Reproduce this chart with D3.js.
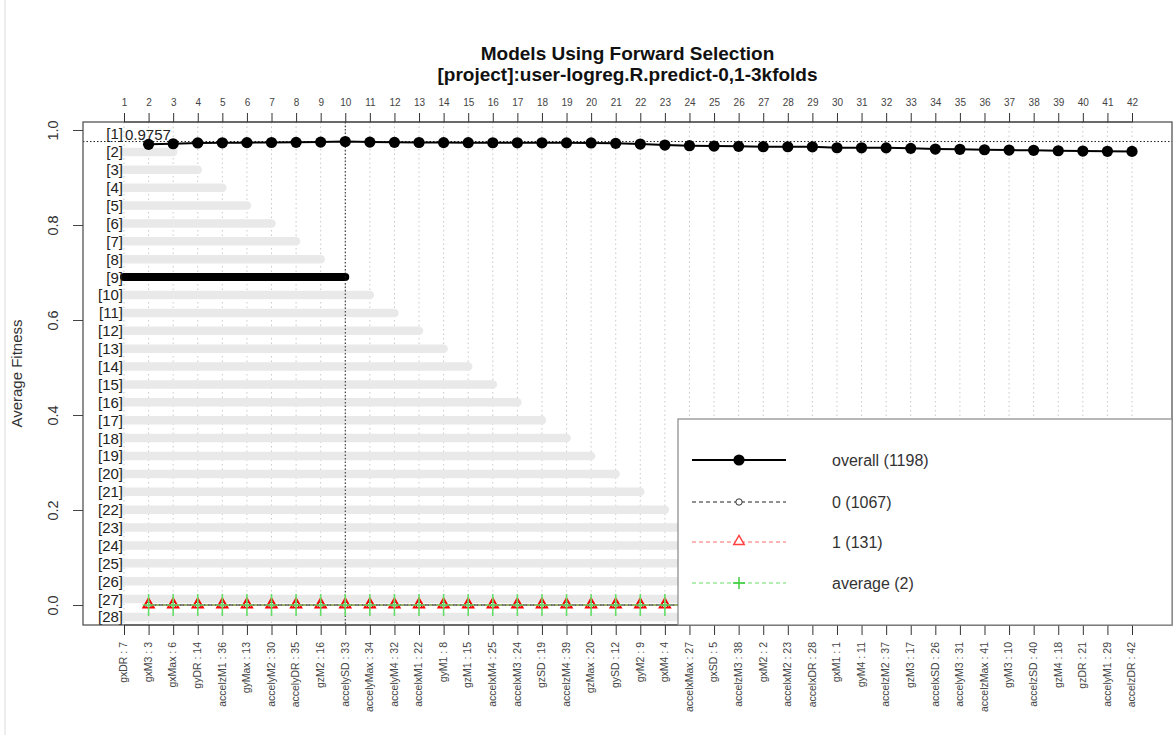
<!DOCTYPE html>
<html>
<head>
<meta charset="utf-8">
<script src="https://cdn.jsdelivr.net/npm/d3@7"></script>
<style>
  html, body { margin: 0; padding: 0; background: #fff; }
  svg { display: block; font-family: "Liberation Sans", Arial, Helvetica, sans-serif; }
</style>
</head>
<body>
<svg id="chart" width="1175" height="735"></svg>
<script>
// ---- data ---------------------------------------------------------------
const titleLines = ["Models Using Forward Selection", "[project]:user-logreg.R.predict-0,1-3kfolds"];
const yAxisTitle = "Average Fitness";

// number of features in each model (top axis)
const stepTicks = [1,2,3,4,5,6,7,8,9,10,11,12,13,14,15,16,17,18,19,20,21,
                   22,23,24,25,26,27,28,29,30,31,32,33,34,35,36,37,38,39,40,41,42];

// feature added at each step (bottom axis)
const featureNames = ["gxDR : 7", "gxM3 : 3", "gxMax : 6", "gyDR : 14", "accelzM1 : 36", "gyMax : 13",
  "accelyM2 : 30", "accelyDR : 35", "gzM2 : 16", "accelySD : 33", "accelyMax : 34", "accelyM4 : 32",
  "accelxM1 : 22", "gyM1 : 8", "gzM1 : 15", "accelxM4 : 25", "accelxM3 : 24", "gzSD : 19",
  "accelzM4 : 39", "gzMax : 20", "gySD : 12", "gyM2 : 9", "gxM4 : 4", "accelxMax : 27",
  "gxSD : 5", "accelzM3 : 38", "gxM2 : 2", "accelxM2 : 23", "accelxDR : 28", "gxM1 : 1",
  "gyM4 : 11", "accelzM2 : 37", "gzM3 : 17", "accelxSD : 26", "accelyM3 : 31", "accelzMax : 41",
  "gyM3 : 10", "accelzSD : 40", "gzM4 : 18", "gzDR : 21", "accelyM1 : 29", "accelzDR : 42"];

// fitness of each model, steps 2..42
const modelSteps = [2,3,4,5,6,7,8,9,10,11,12,13,14,15,16,17,18,19,20,21,22,
                    23,24,25,26,27,28,29,30,31,32,33,34,35,36,37,38,39,40,41,42];
const fitnessOverall = [0.9698, 0.9711, 0.9728, 0.9731, 0.9734, 0.9737, 0.9740, 0.9745, 0.9757, 0.9745,
  0.9740, 0.9737, 0.9735, 0.9733, 0.9732, 0.9731, 0.9730, 0.9729, 0.9728, 0.9719, 0.9704, 0.9683,
  0.9669, 0.9662, 0.9656, 0.9648, 0.9647, 0.9646, 0.9626, 0.9625, 0.9624, 0.9614, 0.9599, 0.9593,
  0.9584, 0.9578, 0.9572, 0.9563, 0.9557, 0.9551, 0.9550];
const fitnessClass0 = [0,0,0,0,0,0,0,0,0,0,0,0,0,0,0,0,0,0,0,0,0,0,0,0,0,0,0,0,0,0,0,0,0,0,0,0,0,0,0,0,0];
const fitnessClass1 = [0,0,0,0,0,0,0,0,0,0,0,0,0,0,0,0,0,0,0,0,0,0,0,0,0,0,0,0,0,0,0,0,0,0,0,0,0,0,0,0,0];
const fitnessAvg    = [0,0,0,0,0,0,0,0,0,0,0,0,0,0,0,0,0,0,0,0,0,0,0,0,0,0,0,0,0,0,0,0,0,0,0,0,0,0,0,0,0];

// ranked rows: [k] and the step its span reaches
const rankLabels = ["[1]","[2]","[3]","[4]","[5]","[6]","[7]","[8]","[9]","[10]","[11]","[12]","[13]","[14]",
  "[15]","[16]","[17]","[18]","[19]","[20]","[21]","[22]","[23]","[24]","[25]","[26]","[27]","[28]"];
const rankSpanEnd = [null,3,4,5,6,7,8,9,10,11,12,13,14,15,16,17,18,19,20,21,22,23,24,25,26,27,28,29];
const bestRank = 9;

const yTicks = [0, 0.2, 0.4, 0.6, 0.8, 1.0];

const legendLabels = ["overall (1198)", "0 (1067)", "1 (131)", "average (2)"];

// ---- layout ---------------------------------------------------------------
const svg = d3.select("#chart");
const box = { left: 83, right: 1172, top: 122, bottom: 625 };

const x = d3.scaleLinear().domain([1, 42]).range([124, 1132]);
const y = d3.scaleLinear().domain([0, 1]).range([605, 130]);
const rowY = d3.scaleLinear().domain([1, 28]).range([134, 617]);

// thin page edge on the left
svg.append("line").attr("x1", 5).attr("x2", 5).attr("y1", 0).attr("y2", 735)
  .attr("stroke", "#dcdcdc").attr("stroke-width", 1);

// title
svg.append("text").attr("x", (box.left + box.right) / 2).attr("y", 60)
  .attr("text-anchor", "middle").attr("font-size", 19).attr("font-weight", "bold").attr("fill", "#111")
  .text(titleLines[0]);
svg.append("text").attr("x", (box.left + box.right) / 2).attr("y", 81)
  .attr("text-anchor", "middle").attr("font-size", 19).attr("font-weight", "bold").attr("fill", "#111")
  .text(titleLines[1]);

const plot = svg.append("g");

// vertical dotted grid at each step
plot.selectAll("line.grid").data(stepTicks).enter().append("line")
  .attr("class", "grid")
  .attr("x1", d => x(d)).attr("x2", d => x(d))
  .attr("y1", box.top).attr("y2", box.bottom)
  .attr("stroke", "#c9c9c9").attr("stroke-width", 1).attr("stroke-dasharray", "1.5,3");

// ranked spans
const rows = rankLabels.map((lab, i) => ({ rank: i + 1, label: lab, end: rankSpanEnd[i] }));
plot.selectAll("line.span").data(rows.filter(r => r.end !== null && r.rank !== bestRank)).enter()
  .append("line").attr("class", "span")
  .attr("x1", x(1)).attr("x2", d => x(d.end))
  .attr("y1", d => rowY(d.rank)).attr("y2", d => rowY(d.rank))
  .attr("stroke", "#e9e9e9").attr("stroke-width", 8.5).attr("stroke-linecap", "round");
const best = rows[bestRank - 1];
plot.append("line")
  .attr("x1", x(1)).attr("x2", x(best.end))
  .attr("y1", rowY(best.rank)).attr("y2", rowY(best.rank))
  .attr("stroke", "#000").attr("stroke-width", 8).attr("stroke-linecap", "round");

plot.selectAll("text.rank").data(rows).enter().append("text")
  .attr("class", "rank")
  .attr("x", 123).attr("y", d => rowY(d.rank)).attr("dy", "0.36em")
  .attr("text-anchor", "end").attr("font-size", 15).attr("fill", "#222")
  .text(d => d.label);

// best model marker lines
const bestVal = d3.max(fitnessOverall);
const bestStep = modelSteps[fitnessOverall.indexOf(bestVal)];
plot.append("line").attr("x1", box.left).attr("x2", box.right)
  .attr("y1", y(bestVal)).attr("y2", y(bestVal))
  .attr("stroke", "#222").attr("stroke-width", 1).attr("stroke-dasharray", "1.5,2");
plot.append("line").attr("x1", x(bestStep)).attr("x2", x(bestStep))
  .attr("y1", box.top).attr("y2", box.bottom)
  .attr("stroke", "#222").attr("stroke-width", 1).attr("stroke-dasharray", "1.5,2");
plot.append("text").attr("x", 125).attr("y", rowY(1)).attr("dy", "0.4em")
  .attr("font-size", 15).attr("fill", "#222")
  .text(d3.format(".4f")(bestVal));

// series
const line = d3.line().x(d => x(d[0])).y(d => y(d[1]));
const zipSeries = vals => modelSteps.map((s, i) => [s, vals[i]]);

plot.append("path").datum(zipSeries(fitnessClass1)).attr("d", line)
  .attr("fill", "none").attr("stroke", "#ff5050").attr("stroke-width", 1).attr("stroke-dasharray", "4,3");
plot.append("path").datum(zipSeries(fitnessAvg)).attr("d", line)
  .attr("fill", "none").attr("stroke", "#33bb33").attr("stroke-width", 1.2).attr("stroke-dasharray", "4,3");
plot.append("path").datum(zipSeries(fitnessClass0)).attr("d", line)
  .attr("fill", "none").attr("stroke", "#111").attr("stroke-width", 1).attr("stroke-dasharray", "4,3")
  .attr("stroke-dashoffset", 3.5);

plot.selectAll("circle.c0").data(zipSeries(fitnessClass0)).enter().append("circle")
  .attr("class", "c0").attr("cx", d => x(d[0])).attr("cy", d => y(d[1])).attr("r", 3)
  .attr("fill", "none").attr("stroke", "#333");
const tri = d3.symbol().type(d3.symbolTriangle).size(48);
plot.selectAll("path.c1").data(zipSeries(fitnessClass1)).enter().append("path")
  .attr("class", "c1").attr("d", tri)
  .attr("transform", d => `translate(${x(d[0])},${y(d[1]) - 0.5})`)
  .attr("fill", "none").attr("stroke", "#ff0000").attr("stroke-width", 1.8);
plot.selectAll("path.avg").data(zipSeries(fitnessAvg)).enter().append("path")
  .attr("class", "avg")
  .attr("d", d => `M${x(d[0])},${y(d[1]) - 11}V${y(d[1]) + 11}M${x(d[0]) - 6},${y(d[1])}H${x(d[0]) + 6}`)
  .attr("stroke", "#66dd66").attr("stroke-width", 1.6).attr("fill", "none");

plot.append("path").datum(zipSeries(fitnessOverall)).attr("d", line)
  .attr("fill", "none").attr("stroke", "#000").attr("stroke-width", 2);
plot.selectAll("circle.ov").data(zipSeries(fitnessOverall)).enter().append("circle")
  .attr("class", "ov").attr("cx", d => x(d[0])).attr("cy", d => y(d[1])).attr("r", 5.6)
  .attr("fill", "#000");

// plot frame
svg.append("rect").attr("x", box.left).attr("y", box.top)
  .attr("width", box.right - box.left).attr("height", box.bottom - box.top)
  .attr("fill", "none").attr("stroke", "#555").attr("stroke-width", 1.3);

// top axis: step counts
const topAxis = d3.axisTop(x).tickValues(stepTicks).tickSize(9).tickPadding(7).tickFormat(d3.format("d"));
const gTop = svg.append("g").attr("transform", `translate(0,${box.top})`).call(topAxis);
gTop.select(".domain").attr("d", `M${x(1)},0H${x(42)}`).attr("stroke", "#444");
gTop.selectAll(".tick line").attr("stroke", "#333");
gTop.selectAll("text").attr("font-size", 10).attr("fill", "#444").attr("font-family", null);

// bottom axis: feature added at each step
const bottomAxis = d3.axisBottom(x).tickValues(stepTicks).tickSize(10).tickFormat(d => featureNames[d - 1]);
const gBot = svg.append("g").attr("transform", `translate(0,${box.bottom})`).call(bottomAxis);
gBot.select(".domain").attr("d", `M${x(1)},0H${x(42)}`).attr("stroke", "#444");
gBot.selectAll(".tick line").attr("stroke", "#333");
gBot.selectAll("text")
  .attr("font-size", 10.5).attr("fill", "#444").attr("font-family", null)
  .attr("text-anchor", "end").attr("dy", null).attr("y", 0)
  .attr("transform", "translate(0,17) rotate(-90)")
  .attr("dominant-baseline", "middle");

// left axis
const leftAxis = d3.axisLeft(y).tickValues(yTicks).tickSize(10).tickFormat(d3.format(".1f"));
const gLeft = svg.append("g").attr("transform", `translate(${box.left},0)`).call(leftAxis);
gLeft.select(".domain").remove();
gLeft.selectAll(".tick line").attr("stroke", "#444");
gLeft.selectAll("text")
  .attr("font-size", 14.5).attr("fill", "#333").attr("font-family", null)
  .attr("text-anchor", "middle").attr("x", 0).attr("dy", null)
  .attr("transform", "translate(-29,0) rotate(-90)")
  .attr("dominant-baseline", "middle");

svg.append("text").attr("transform", `translate(18,${(box.top + box.bottom) / 2}) rotate(-90)`)
  .attr("text-anchor", "middle").attr("dominant-baseline", "middle")
  .attr("font-size", 15).attr("fill", "#333").text(yAxisTitle);

// legend
const lg = { x: 678, y: 419, w: box.right - 678, h: box.bottom - 419 };
svg.append("rect").attr("x", lg.x).attr("y", lg.y).attr("width", lg.w).attr("height", lg.h)
  .attr("fill", "#fff").attr("stroke", "#888").attr("stroke-width", 1.2);
const legendRows = [460, 502, 542, 583];
const lx0 = 692, lx1 = 786, lxm = 739;
const legendStyles = [
  { stroke: "#000", width: 2, dash: null },
  { stroke: "#222", width: 1, dash: "4,3" },
  { stroke: "#ff6b6b", width: 1, dash: "4,3" },
  { stroke: "#66dd66", width: 1, dash: "4,3" }
];
legendLabels.forEach((lab, i) => {
  const ly = legendRows[i];
  const st = legendStyles[i];
  svg.append("line").attr("x1", lx0).attr("x2", lx1).attr("y1", ly).attr("y2", ly)
    .attr("stroke", st.stroke).attr("stroke-width", st.width).attr("stroke-dasharray", st.dash);
  svg.append("text").attr("x", 832).attr("y", ly).attr("dy", "0.36em")
    .attr("font-size", 16).attr("fill", "#333").text(lab);
});
svg.append("circle").attr("cx", lxm).attr("cy", legendRows[0]).attr("r", 5.6).attr("fill", "#000");
svg.append("circle").attr("cx", lxm).attr("cy", legendRows[1]).attr("r", 3.2)
  .attr("fill", "#fff").attr("stroke", "#333");
svg.append("path").attr("d", tri).attr("transform", `translate(${lxm},${legendRows[2] - 0.5})`)
  .attr("fill", "#fff").attr("stroke", "#ff4040").attr("stroke-width", 1.4);
svg.append("path")
  .attr("d", `M${lxm},${legendRows[3] - 6}V${legendRows[3] + 6}M${lxm - 6},${legendRows[3]}H${lxm + 6}`)
  .attr("stroke", "#33cc33").attr("stroke-width", 1.4);
</script>
</body>
</html>
